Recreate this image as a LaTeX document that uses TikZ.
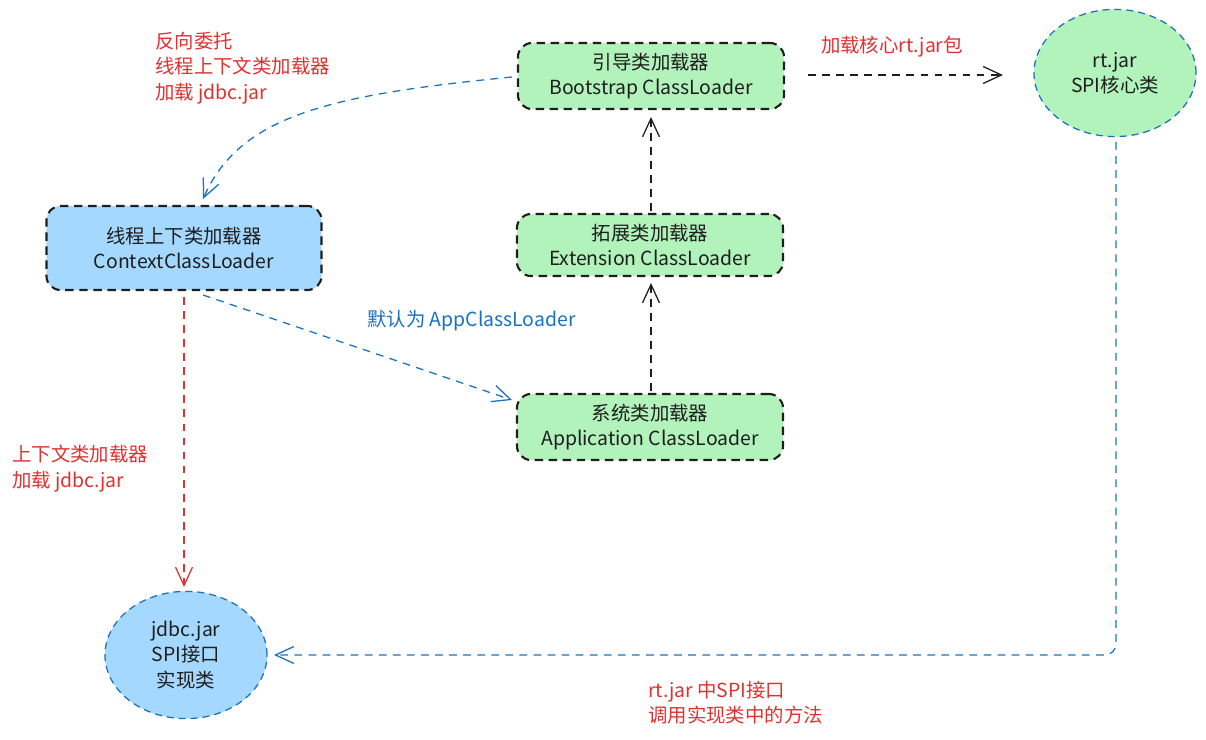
\documentclass[tikz,border=0pt]{standalone}
\usepackage{fontspec}
\setmainfont{Noto Sans CJK SC}
\usetikzlibrary{arrows.meta,shapes.geometric}
\definecolor{gfill}{HTML}{B2F2BB}
\definecolor{bfill}{HTML}{A5D8FF}
\definecolor{ink}{HTML}{1E1E1E}
\definecolor{bline}{HTML}{1971C2}
\definecolor{rline}{HTML}{E03131}
\tikzset{
  px/.style={x=0.025cm,y=-0.025cm},
  loader/.style={draw=ink, line width=1.5pt, dash pattern=on 6pt off 4pt, rounded corners=10pt,
    align=center, font=\fontsize{13.8}{18}\selectfont, text=ink, inner sep=0pt},
  green/.style={loader, fill=gfill, minimum width=6.65cm, minimum height=1.65cm},
  blob/.style={ellipse, draw=bline, line width=0.9pt, dash pattern=on 5pt off 3.5pt,
    align=center, font=\fontsize{13.8}{18}\selectfont, text=ink, inner sep=0pt,
    minimum width=4.05cm, minimum height=3.18cm},
  conn/.style={line width=0.9pt, dash pattern=on 5.5pt off 4.5pt,
    -{Straight Barb[length=13pt,width=12pt,line width=0.9pt]}},
  lbl/.style={font=\fontsize{13.8}{18}\selectfont, align=left, inner sep=0pt},
}
\begin{document}
\begin{tikzpicture}[px]
\useasboundingbox (0,0) rectangle (1206,740);
% nodes
\node[green] (boot) at (651,76) {引导类加载器\\Bootstrap ClassLoader};
\node[green, minimum height=1.55cm] (ext) at (650,245) {拓展类加载器\\Extension ClassLoader};
\node[green] (app) at (650,427) {系统类加载器\\Application ClassLoader};
\node[loader, fill=bfill, minimum width=6.875cm, minimum height=2.1cm] (ctx) at (184,248) {线程上下类加载器\\ContextClassLoader};
\node[blob, fill=gfill] (rt) at (1115,73) {rt.jar\\SPI核心类};
\node[blob, fill=bfill] (jdbc) at (186,655) {jdbc.jar\\SPI接口\\实现类};
% helper coordinates
\coordinate (bootR) at (808,75);
\coordinate (rtL) at (1003,75);
\coordinate (bootL) at (512,77);
\coordinate (ctxT) at (203,199);
\coordinate (ctxB) at (203,295);
\coordinate (appL) at (512,400);
\coordinate (ctxD) at (184,297);
\coordinate (jdbcT) at (184,587);
\coordinate (rtB) at (1116,142);
\coordinate (jdbcR) at (274,655);
\coordinate (appT) at (651,391);
\coordinate (extB) at (651,283);
\coordinate (extT) at (651,211);
\coordinate (bootB) at (651,117);
% connectors
\draw[conn, draw=ink] (bootR) -- (rtL);
\draw[conn, draw=ink] (appT) -- (extB);
\draw[conn, draw=ink] (extT) -- (bootB);
\draw[conn, draw=bline] (bootL) .. controls (330,95) and (240,115) .. (ctxT);
\draw[conn, draw=bline] (ctxB) -- (appL);
\draw[conn, draw=rline] (ctxD) -- (jdbcT);
\draw[conn, draw=bline, rounded corners=8pt] (rtB) |- (jdbcR);
% labels
\node[lbl, text=rline] (l1) at (892,47) {加载核心rt.jar包};
\node[lbl, text=rline, anchor=north west] (l2) at (155,32) {反向委托\\线程上下文类加载器\\加载 jdbc.jar};
\node[lbl, text=bline, anchor=west] (l3) at (367,321) {默认为 AppClassLoader};
\node[lbl, text=rline, anchor=north west] (l4) at (12,445) {上下文类加载器\\加载 jdbc.jar};
\node[lbl, text=rline, anchor=north west] (l5) at (648,681) {rt.jar 中SPI接口\\调用实现类中的方法};
\end{tikzpicture}
\end{document}
